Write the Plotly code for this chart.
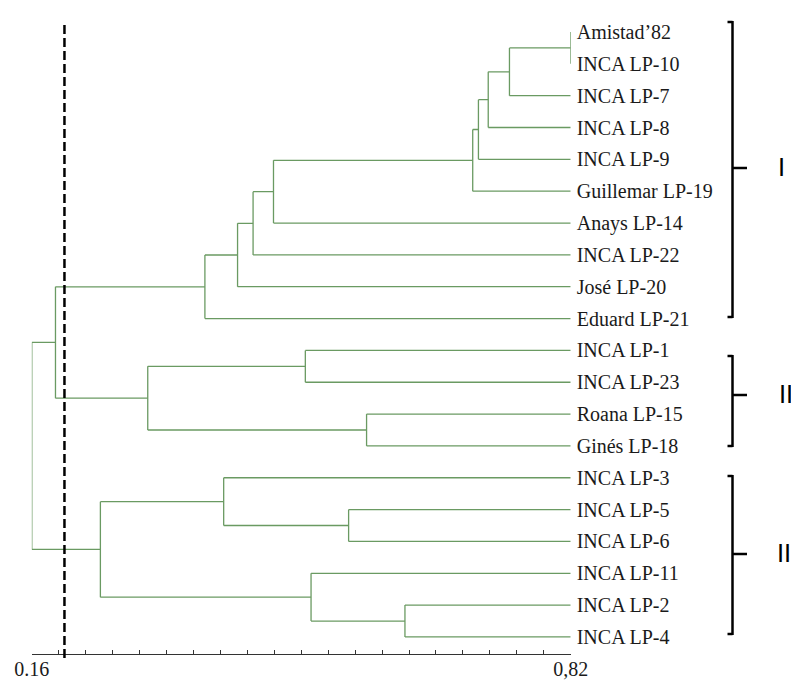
import plotly.graph_objects as go

# ---------------- data ----------------
leaves = ["Amistad’82", "INCA LP-10", "INCA LP-7", "INCA LP-8", "INCA LP-9",
          "Guillemar LP-19", "Anays LP-14", "INCA LP-22", "José LP-20", "Eduard LP-21",
          "INCA LP-1", "INCA LP-23", "Roana LP-15", "Ginés LP-18",
          "INCA LP-3", "INCA LP-5", "INCA LP-6", "INCA LP-11", "INCA LP-2", "INCA LP-4"]
leaf_similarity = 0.82
# merge k creates node len(leaves)+k
merge_left = [0, 20, 21, 22, 23, 24, 25, 26, 27, 10, 12, 29, 28, 15, 14, 18, 17, 34, 32]
merge_right = [1, 2, 3, 4, 5, 6, 7, 8, 9, 11, 13, 30, 31, 16, 33, 19, 35, 36, 37]
merge_similarity = [0.82, 0.745, 0.719, 0.707, 0.700, 0.456, 0.431, 0.412, 0.372,
                    0.495, 0.570, 0.302, 0.189, 0.548, 0.395, 0.617, 0.502, 0.244, 0.160]
cutoff = 0.20
cluster_names = ["I", "II", "III"]
axis_min, axis_max = 0.16, 0.82
axis_ticklabels = ["0.16", "0,82"]

# ---------------- layout helpers ----------------
OFF = 8  # page body margin
W, H = 799 - OFF, 680 - OFF
def px(x):
    return (x - OFF) / W
def py(y):
    return 1 - (y - OFF) / H

n = len(leaves)
node_x = {i: leaf_similarity for i in range(n)}
node_y = {i: float(i) for i in range(n)}
xs, ys = [], []
for k, (a, b, s) in enumerate(zip(merge_left, merge_right, merge_similarity)):
    node = n + k
    ya, yb = node_y[a], node_y[b]
    node_x[node] = s
    node_y[node] = (ya + yb) / 2
    xs += [s, s, None]
    ys += [ya, yb, None]
    for c in (a, b):
        if node_x[c] != s:
            xs += [s, node_x[c], None]
            ys += [node_y[c], node_y[c], None]

green = "#6a9a62"
fig = go.Figure()
fig.add_trace(go.Scatter(x=xs, y=ys, mode="lines",
                         line=dict(color=green, width=1.3),
                         hoverinfo="skip", showlegend=False))

# page-pixel geometry
x0_px, x1_px = 31.8, 570.7
leaf0_px, step_px = 32.0, 31.84
axis_px = 654.0
top_px = OFF
ybot = (axis_px - leaf0_px) / step_px
ytop = (top_px - leaf0_px) / step_px

nt = 20
tickvals = [axis_min + (axis_max - axis_min) * k / nt for k in range(nt + 1)]
ticktext = [""] * (nt + 1)
ticktext[0], ticktext[-1] = axis_ticklabels

serif = "Liberation Serif"
fig.update_layout(
    template="none",
    width=W, height=H,
    margin=dict(l=0, r=0, t=0, b=0, autoexpand=False),
    paper_bgcolor="white", plot_bgcolor="white",
    showlegend=False,
    xaxis=dict(domain=[px(x0_px), px(x1_px)], range=[axis_min, axis_max],
               automargin=False,
               showgrid=False, zeroline=False, showline=True,
               linecolor="#333333", linewidth=1,
               ticks="inside", ticklen=4, tickcolor="#333333", tickwidth=1,
               tickvals=tickvals, ticktext=ticktext, tickangle=0,
               ticklabelstandoff=-3,
               tickfont=dict(family=serif, size=20, color="#1a1a1a"),
               anchor="y"),
    yaxis=dict(domain=[py(axis_px), 1], range=[ybot, ytop],
               automargin=False,
               side="right", anchor="x",
               showgrid=False, zeroline=False, showline=False, ticks="",
               tickvals=list(range(n)), ticktext=leaves,
               ticklabelstandoff=5,
               tickfont=dict(family=serif, size=20, color="#1a1a1a")),
)

fig.add_shape(type="line", xref="x", yref="paper", x0=cutoff, x1=cutoff,
              y0=py(658), y1=py(22),
              line=dict(color="black", width=2.5, dash="9px,4px"), layer="above")

bx = 732.5
brackets = [(21, 318, 168), (355, 447, 395), (475, 635, 554)]
label_center = [781, 786, 787]
for name, (t, b, m), lx in zip(cluster_names, brackets, label_center):
    lw = dict(color="black", width=2.5)
    fig.add_shape(type="line", xref="paper", yref="paper", x0=px(bx), x1=px(bx),
                  y0=py(t), y1=py(b), line=lw)
    fig.add_shape(type="line", xref="paper", yref="paper", x0=px(bx - 5), x1=px(bx),
                  y0=py(t + 1), y1=py(t + 1), line=lw)
    fig.add_shape(type="line", xref="paper", yref="paper", x0=px(bx - 5), x1=px(bx),
                  y0=py(b - 1), y1=py(b - 1), line=lw)
    fig.add_shape(type="line", xref="paper", yref="paper", x0=px(bx), x1=px(747),
                  y0=py(m), y1=py(m), line=lw)
    fig.add_annotation(x=px(lx), y=py(m), xref="paper", yref="paper",
                       text=name, showarrow=False, xanchor="center", yanchor="middle",
                       borderpad=0,
                       font=dict(family="DejaVu Sans", size=24, color="black"))

fig.write_html("out.html")
